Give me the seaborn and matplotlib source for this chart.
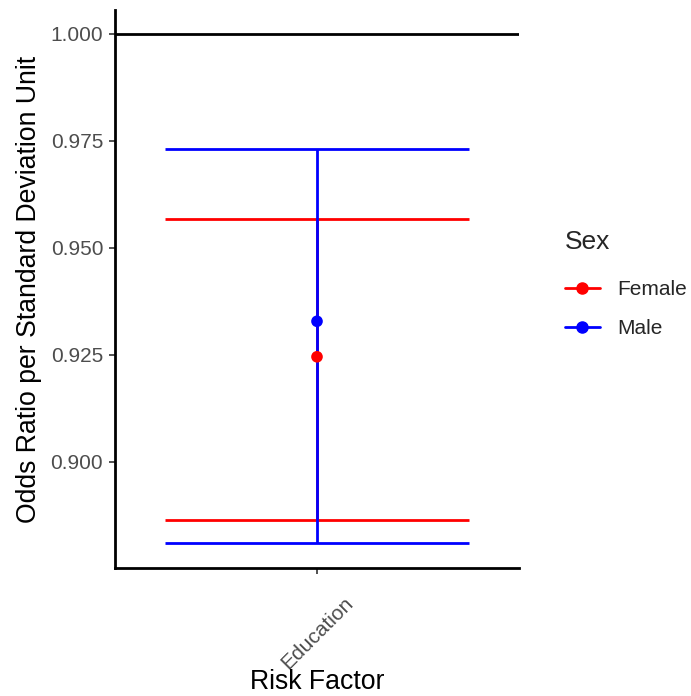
import matplotlib
matplotlib.use("Agg")
import matplotlib.pyplot as plt
from matplotlib.lines import Line2D
import seaborn as sns
import pandas as pd

# Odds ratios with 95% confidence intervals, by sex
risk_factors = ["Education", "Education"]
sexes = ["Female", "Male"]
odds_ratio = [0.9245, 0.9328]
ci_lower = [0.8863, 0.8809]
ci_upper = [0.9567, 0.9730]
reference_line = 1.0

palette = {"Female": "#FF0000", "Male": "#0000FF"}

df = pd.DataFrame({
    "Risk Factor": risk_factors,
    "Sex": sexes,
    "OR": odds_ratio,
    "lo": ci_lower,
    "hi": ci_upper,
})

sns.set_theme(style="ticks")
plt.rcParams["font.family"] = ["Liberation Sans", "DejaVu Sans"]

fig = plt.figure(figsize=(6.91, 6.96), dpi=100)
ax = fig.add_axes([0.1664, 0.1839, 0.5847, 0.8017])

cats = list(dict.fromkeys(df["Risk Factor"]))
xpos = {c: i for i, c in enumerate(cats)}
cap_half = 0.7525

# reference line at OR = 1
ax.axhline(reference_line, color="black", lw=2.0, zorder=1)

# confidence intervals (caps + stems)
for _, r in df.iterrows():
    x = xpos[r["Risk Factor"]]
    col = palette[r["Sex"]]
    ax.hlines([r["lo"], r["hi"]], x - cap_half, x + cap_half, color=col, lw=2.0, zorder=2)
    ax.vlines(x, r["lo"], r["hi"], color=col, lw=2.0, zorder=2)

# point estimates
df["x"] = df["Risk Factor"].map(xpos)
sns.scatterplot(data=df, x="x", y="OR", hue="Sex", palette=palette, s=70,
                edgecolor="none", legend=False, ax=ax, zorder=3)

ax.set_xlim(-1, 1)
ax.set_ylim(0.8751, 1.0056)
ax.set_xticks(list(xpos.values()))
ax.set_xticklabels(cats, rotation=45, ha="center", fontsize=15, color="#4D4D4D")
ax.set_yticks([0.900, 0.925, 0.950, 0.975, 1.000])
ax.set_yticklabels(["0.900", "0.925", "0.950", "0.975", "1.000"], fontsize=15, color="#4D4D4D")
ax.tick_params(axis="y", length=4.5, width=1.2, color="#333333", pad=4)
ax.tick_params(axis="x", length=4.5, width=1.2, color="#333333", pad=14)

ax.set_xlabel("Risk Factor", fontsize=19.2, color="black", labelpad=-3)
ax.set_ylabel("Odds Ratio per Standard Deviation Unit", fontsize=19.2, color="black", labelpad=6.5)

for s in ["top", "right"]:
    ax.spines[s].set_visible(False)
for s in ["left", "bottom"]:
    ax.spines[s].set_linewidth(2.0)
    ax.spines[s].set_color("black")

handles = [Line2D([0], [0], color=palette[s], lw=2.0, marker="o", markersize=8, label=s)
           for s in sexes]
leg = fig.legend(handles=handles, title="Sex", loc="upper left",
                 bbox_to_anchor=(0.806, 0.682), frameon=False, fontsize=15,
                 title_fontsize=19, handlelength=1.65, labelspacing=0.98,
                 handletextpad=0.85, borderaxespad=0)
leg._legend_box.align = "left"
leg._legend_box.sep = 19

fig.savefig("out.png", dpi=100)
